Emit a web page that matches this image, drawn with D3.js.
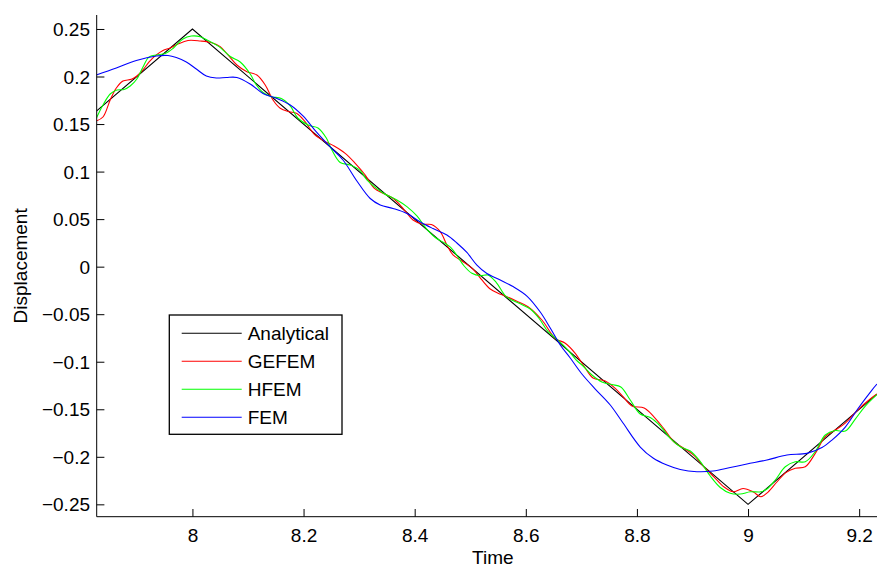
<!DOCTYPE html>
<html>
<head>
<meta charset="utf-8">
<script src="https://cdn.jsdelivr.net/npm/d3@7"></script>
<style>
  html, body { margin: 0; padding: 0; background: #ffffff; }
  svg { display: block; }
  text { font-family: "Liberation Sans", Arial, Helvetica, sans-serif; fill: #000; }
</style>
</head>
<body>
<svg id="chart" width="877" height="568"></svg>
<script>
// ---------------- DATA ----------------
const xTicks = [8, 8.2, 8.4, 8.6, 8.8, 9, 9.2];
const yTicks = [-0.25, -0.2, -0.15, -0.1, -0.05, 0, 0.05, 0.1, 0.15, 0.2, 0.25];
const seriesNames = ["Analytical", "GEFEM", "HFEM", "FEM"];

const analyticalTime = [7.8277, 8, 9, 9.2321];
const analyticalDisp = [0.1639, 0.25, -0.25, -0.134];

const gefemTime = [7.827, 7.839, 7.852, 7.863, 7.875, 7.890, 7.900, 7.911, 7.922, 7.935, 7.947, 7.960, 7.974, 7.992,
  8.014, 8.035, 8.050, 8.064, 8.080, 8.098, 8.116, 8.131, 8.145, 8.158, 8.174, 8.188, 8.203, 8.219, 8.237, 8.255,
  8.275, 8.293, 8.311, 8.327, 8.343, 8.361, 8.379, 8.397, 8.415, 8.430, 8.446, 8.458, 8.469, 8.487, 8.505, 8.521,
  8.536, 8.550, 8.563, 8.583, 8.604, 8.629, 8.653, 8.671, 8.689, 8.707, 8.721, 8.743, 8.761, 8.775, 8.791, 8.813,
  8.831, 8.849, 8.867, 8.885, 8.903, 8.921, 8.939, 8.957, 8.973, 8.991, 9.009, 9.023, 9.036, 9.052, 9.068, 9.085,
  9.103, 9.121, 9.139, 9.157, 9.175, 9.198, 9.221, 9.232];
const gefemDisp = [0.1532, 0.1574, 0.1753, 0.1879, 0.1953, 0.1971, 0.2006, 0.2069, 0.2153, 0.2227, 0.2274, 0.2300, 0.2342, 0.2379,
  0.2374, 0.2356, 0.2314, 0.2227, 0.2121, 0.2051, 0.2016, 0.1911, 0.1753, 0.1666, 0.1630, 0.1611, 0.1522, 0.1395, 0.1322, 0.1269,
  0.1192, 0.1087, 0.0964, 0.0827, 0.0772, 0.0719, 0.0614, 0.0491, 0.0446, 0.0443, 0.0368, 0.0228, 0.0123, 0.0052, -0.0025, -0.0140,
  -0.0235, -0.0280, -0.0309, -0.0361, -0.0421, -0.0561, -0.0754, -0.0806, -0.0912, -0.1066, -0.1171, -0.1203, -0.1280, -0.1368, -0.1466, -0.1487,
  -0.1582, -0.1708, -0.1845, -0.1913, -0.1987, -0.2108, -0.2213, -0.2318, -0.2368, -0.2334, -0.2368, -0.2420, -0.2371, -0.2265, -0.2166, -0.2121,
  -0.2105, -0.1964, -0.1789, -0.1718, -0.1645, -0.1503, -0.1387, -0.1340];

const hfemTime = [7.827, 7.839, 7.852, 7.864, 7.877, 7.888, 7.900, 7.911, 7.922, 7.935, 7.951, 7.965, 7.983, 7.998,
  8.014, 8.028, 8.048, 8.068, 8.086, 8.104, 8.115, 8.127, 8.142, 8.160, 8.176, 8.190, 8.210, 8.226, 8.241, 8.251,
  8.266, 8.284, 8.302, 8.314, 8.343, 8.368, 8.386, 8.404, 8.421, 8.437, 8.455, 8.466, 8.476, 8.489, 8.503, 8.518,
  8.532, 8.547, 8.565, 8.588, 8.608, 8.624, 8.640, 8.658, 8.676, 8.690, 8.703, 8.719, 8.737, 8.755, 8.771, 8.788,
  8.806, 8.824, 8.842, 8.860, 8.878, 8.896, 8.914, 8.932, 8.950, 8.968, 8.986, 9.004, 9.023, 9.034, 9.049, 9.067,
  9.085, 9.103, 9.121, 9.139, 9.157, 9.175, 9.193, 9.211, 9.232];
const hfemDisp = [0.1561, 0.1701, 0.1816, 0.1858, 0.1864, 0.1900, 0.1974, 0.2100, 0.2206, 0.2227, 0.2242, 0.2295, 0.2395, 0.2426,
  0.2419, 0.2379, 0.2314, 0.2211, 0.2153, 0.2027, 0.1911, 0.1832, 0.1788, 0.1769, 0.1690, 0.1561, 0.1485, 0.1459, 0.1353, 0.1227,
  0.1096, 0.1069, 0.1011, 0.0912, 0.0775, 0.0701, 0.0631, 0.0533, 0.0401, 0.0307, 0.0244, 0.0196, 0.0117, 0.0007, -0.0070, -0.0096,
  -0.0088, -0.0167, -0.0316, -0.0386, -0.0446, -0.0545, -0.0684, -0.0772, -0.0877, -0.0977, -0.1045, -0.1140, -0.1213, -0.1240, -0.1266, -0.1403,
  -0.1550, -0.1587, -0.1676, -0.1806, -0.1894, -0.1939, -0.2050, -0.2202, -0.2323, -0.2384, -0.2392, -0.2368, -0.2368, -0.2339, -0.2244, -0.2105,
  -0.2052, -0.2052, -0.1945, -0.1771, -0.1724, -0.1729, -0.1603, -0.1466, -0.1345];

const femTime = [7.827, 7.863, 7.899, 7.935, 7.956, 7.971, 7.989, 8.007, 8.025, 8.043, 8.061, 8.080, 8.104, 8.127,
  8.152, 8.176, 8.199, 8.223, 8.248, 8.271, 8.296, 8.320, 8.338, 8.361, 8.386, 8.410, 8.433, 8.458, 8.476, 8.494,
  8.512, 8.530, 8.554, 8.577, 8.602, 8.626, 8.644, 8.662, 8.680, 8.701, 8.725, 8.752, 8.775, 8.806, 8.829, 8.854,
  8.878, 8.908, 8.937, 8.968, 8.998, 9.034, 9.070, 9.106, 9.133, 9.151, 9.175, 9.198, 9.223, 9.232];
const femDisp = [0.2016, 0.2090, 0.2169, 0.2216, 0.2221, 0.2200, 0.2153, 0.2079, 0.2006, 0.1985, 0.1990, 0.1990, 0.1921, 0.1822,
  0.1769, 0.1701, 0.1585, 0.1417, 0.1259, 0.1122, 0.0901, 0.0717, 0.0649, 0.0612, 0.0559, 0.0470, 0.0401, 0.0333, 0.0249, 0.0149,
  0.0017, -0.0072, -0.0140, -0.0209, -0.0309, -0.0477, -0.0645, -0.0824, -0.0961, -0.1129, -0.1287, -0.1455, -0.1645, -0.1897, -0.2013, -0.2087,
  -0.2134, -0.2157, -0.2150, -0.2113, -0.2076, -0.2034, -0.1981, -0.1964, -0.1903, -0.1824, -0.1687, -0.1492, -0.1298, -0.1235];

const seriesColors = ["#000000", "#ff0000", "#00ff00", "#0000ff"];

// ---------------- LAYOUT ----------------
const svg = d3.select("#chart");
const plotLeft = 96.7, plotRight = 877, plotTop = 15, plotBottom = 516.7;
const fontSize = 19;

const x = d3.scaleLinear().domain([7.8277, 9.2321]).range([plotLeft, plotRight]);
const y = d3.scaleLinear().domain([-0.263, 0.2647]).range([plotBottom, plotTop]);

svg.append("defs").append("clipPath").attr("id", "plotClip")
  .append("rect").attr("x", plotLeft).attr("y", plotTop)
  .attr("width", plotRight - plotLeft + 2).attr("height", plotBottom - plotTop);

// ---------------- SERIES ----------------
const series = [
  { name: seriesNames[0], t: analyticalTime, v: analyticalDisp, color: seriesColors[0], curve: d3.curveLinear },
  { name: seriesNames[1], t: gefemTime, v: gefemDisp, color: seriesColors[1], curve: d3.curveCatmullRom.alpha(0.5) },
  { name: seriesNames[2], t: hfemTime, v: hfemDisp, color: seriesColors[2], curve: d3.curveCatmullRom.alpha(0.5) },
  { name: seriesNames[3], t: femTime, v: femDisp, color: seriesColors[3], curve: d3.curveCatmullRom.alpha(0.5) }
];

const gLines = svg.append("g").attr("clip-path", "url(#plotClip)");
series.forEach(s => {
  const pts = s.t.map((t, i) => [t, s.v[i]]);
  const line = d3.line().x(d => x(d[0])).y(d => y(d[1])).curve(s.curve);
  gLines.append("path").datum(pts)
    .attr("d", line)
    .attr("fill", "none")
    .attr("stroke", s.color)
    .attr("stroke-width", 1.1)
    .attr("stroke-linejoin", "miter");
});

// ---------------- AXES ----------------
const xAxis = d3.axisBottom(x).tickValues(xTicks).tickSizeInner(-7.7).tickSizeOuter(0)
  .tickPadding(16).tickFormat(d3.format("~g"));
const gx = svg.append("g").attr("transform", `translate(0,${plotBottom})`).call(xAxis);
gx.select(".domain").attr("stroke", "#000").attr("stroke-width", 1);
gx.selectAll(".tick line").attr("stroke", "#000");
gx.selectAll(".tick text").attr("font-size", fontSize).attr("font-family", "Liberation Sans, Arial, sans-serif")
  .attr("dy", null).attr("y", 25).attr("fill", "#000");

const minus = "\u2212";
const yAxis = d3.axisLeft(y).tickValues(yTicks).tickSizeInner(-7.7).tickSizeOuter(0)
  .tickFormat(d => (d < 0 ? minus : "") + d3.format("~g")(Math.abs(d)));
const gy = svg.append("g").attr("transform", `translate(${plotLeft},0)`).call(yAxis);
gy.select(".domain").attr("stroke", "#000").attr("stroke-width", 1);
gy.selectAll(".tick line").attr("stroke", "#000");
gy.selectAll(".tick text").attr("font-size", fontSize).attr("font-family", "Liberation Sans, Arial, sans-serif")
  .attr("x", -6.7).attr("dy", "0.35em").attr("fill", "#000");

// extend x axis line to plot right edge, y axis to top
gx.select(".domain").attr("d", `M${plotLeft},0H${plotRight}`);
gy.select(".domain").attr("d", `M0,${plotTop}V${plotBottom}`);

// axis titles
svg.append("text").attr("x", (plotLeft + plotRight) / 2 + 6).attr("y", 564)
  .attr("text-anchor", "middle").attr("font-size", fontSize).text("Time");
svg.append("text").attr("transform", `translate(27,${(plotTop + plotBottom) / 2}) rotate(-90)`)
  .attr("text-anchor", "middle").attr("font-size", fontSize).text("Displacement");

// ---------------- LEGEND ----------------
const legendX = 169.3, legendY = 315, legendW = 172.7, legendH = 119.3, rowH = 28;
const gLeg = svg.append("g");
gLeg.append("rect").attr("x", legendX).attr("y", legendY).attr("width", legendW).attr("height", legendH)
  .attr("fill", "#fff").attr("stroke", "#000").attr("stroke-width", 1.3);
series.forEach((s, i) => {
  const cy = legendY + 18.3 + i * rowH;
  gLeg.append("line").attr("x1", legendX + 12.4).attr("x2", legendX + 72.4)
    .attr("y1", cy).attr("y2", cy).attr("stroke", s.color).attr("stroke-width", 1.1);
  gLeg.append("text").attr("x", legendX + 78.4).attr("y", cy + 6.8)
    .attr("font-size", fontSize).text(s.name);
});
</script>
</body>
</html>
